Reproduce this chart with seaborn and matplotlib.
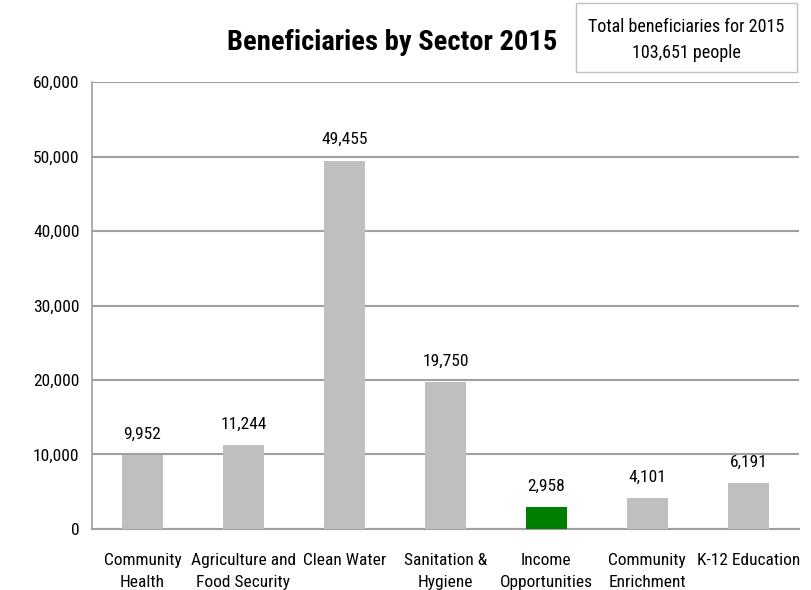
import matplotlib
matplotlib.use("Agg")
import numpy as np
import matplotlib.pyplot as plt
import seaborn as sns
from matplotlib import font_manager
from matplotlib.patches import Rectangle
from matplotlib.ticker import FuncFormatter, FixedLocator

# Data
sectors = ["Community\nHealth", "Agriculture and\nFood Security", "Clean Water",
           "Sanitation &\nHygiene", "Income\nOpportunities", "Community\nEnrichment",
           "K-12 Education"]
beneficiaries = [9952, 11244, 49455, 19750, 2958, 4101, 6191]
bar_colors = ["#BFBFBF", "#BFBFBF", "#BFBFBF", "#BFBFBF", "#007F00", "#BFBFBF", "#BFBFBF"]
y_ticks = [0, 10000, 20000, 30000, 40000, 50000, 60000]

sns.set_style("white")

# pick a narrow font if one is installed
installed = {f.name for f in font_manager.fontManager.ttflist}
narrow = None
for name in ["Roboto Condensed", "Liberation Sans Narrow", "DejaVu Sans Condensed",
             "Open Sans Condensed"]:
    if name in installed:
        narrow = name
        break
if narrow:
    plt.rcParams["font.family"] = [narrow, "DejaVu Sans"]
    fs = 12
else:
    plt.rcParams["font.family"] = ["Liberation Sans", "DejaVu Sans"]
    fs = 11
plt.rcParams["text.color"] = "black"

fig = plt.figure(figsize=(8.11, 5.90), dpi=100)
ax = fig.add_axes([0.1134, 0.1034, 0.8716, 0.7576])

sns.barplot(x=sectors, y=beneficiaries, hue=sectors, palette=bar_colors,
            legend=False, width=0.4, saturation=1, linewidth=0, ax=ax, zorder=3)

ax.set_ylim(0, 60000)
ax.set_xlim(-0.5, len(sectors) - 0.5)
ax.set_yticks(y_ticks)
ax.yaxis.set_major_formatter(FuncFormatter(lambda v, p: f"{int(v):,}"))
ax.grid(axis="y", color="#A0A0A0", linewidth=1.5, zorder=0)
ax.grid(axis="x", visible=False)

for s in ["top", "right"]:
    ax.spines[s].set_visible(False)
ax.spines["left"].set_color("#A0A0A0")
ax.spines["bottom"].set_color("#A0A0A0")
ax.spines["left"].set_linewidth(1.2)
ax.spines["bottom"].set_linewidth(1.5)

ax.tick_params(axis="y", length=5, color="#A0A0A0", labelsize=fs + 0.5, pad=4, labelcolor="black")
ax.tick_params(axis="x", which="major", length=0, labelsize=fs + 0.5, pad=17, labelcolor="black")
for lbl in ax.get_xticklabels():
    lbl.set_linespacing(1.6)
ax.xaxis.set_minor_locator(FixedLocator(np.arange(-0.5, len(sectors), 1.0)))
ax.tick_params(axis="x", which="minor", length=8, color="#A0A0A0", width=1)

for i, v in enumerate(beneficiaries):
    ax.text(i, v + 1800, f"{v:,}", ha="center", va="bottom", fontsize=fs + 0.5)

ax.set_xlabel("")
ax.set_ylabel("")

fig.text(0.483, 0.928, "Beneficiaries by Sector 2015", ha="center", va="center",
         fontsize=18 if narrow is None else 20.5, fontweight="bold")

# total box in the top right corner
fig.patches.append(Rectangle((0.710, 0.878), 0.2725, 0.117, transform=fig.transFigure,
                             facecolor="white", edgecolor="#C0C0C0", linewidth=1))
fig.text(0.846, 0.954, "Total beneficiaries for 2015", ha="center", va="center",
         fontsize=fs + 1)
fig.text(0.846, 0.910, "103,651 people", ha="center", va="center", fontsize=fs + 1)

fig.savefig("out.png", dpi=100)
